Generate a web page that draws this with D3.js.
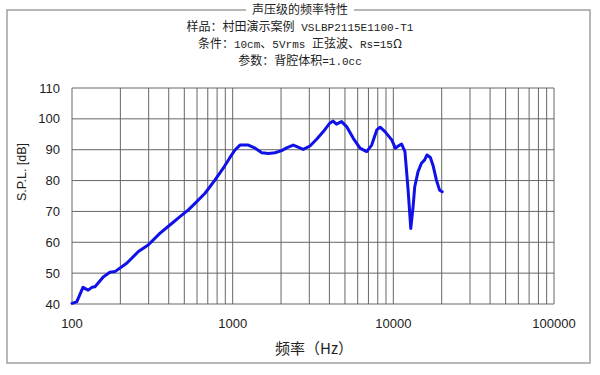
<!DOCTYPE html>
<meta charset="utf-8">
<style>
body { margin: 0; background: #fff; }
text { font-family: "Liberation Sans", Arial, sans-serif; }
</style>
<body>
<script src="https://cdn.jsdelivr.net/npm/d3@7/dist/d3.min.js"></script>
<script>
// frequency response
var freq = [100, 107, 117, 126, 133, 139, 157, 172, 185, 219, 259, 298, 352, 407, 470, 530, 583, 673, 777, 874, 962,
            1034, 1111, 1252, 1380, 1519, 1670, 1834, 2016, 2166, 2380, 2555, 2748, 3028, 3330, 3656, 4022, 4216, 4426,
            4760, 5118, 5633, 6200, 6823, 7332, 7889, 8280, 8900, 9800, 10280, 10960, 11260, 11810, 12360, 12840,
            13270, 13590, 14250, 14960, 15660, 16200, 17000, 17650, 18530, 19400, 20150];
var spl = [40.2, 40.7, 45.4, 44.5, 45.4, 45.6, 48.8, 50.3, 50.5, 53.2, 57, 59.1, 62.9, 65.6, 68.3, 70.5, 72.6, 75.9, 80.2, 84, 87.5,
           89.9, 91.5, 91.5, 90.5, 89, 88.8, 89, 89.7, 90.6, 91.5, 90.8, 90.1, 91.2, 93.4, 95.8, 98.6, 99.3, 98.3,
           99.1, 97.5, 93.7, 90.5, 89.4, 91.5, 96.4, 97.3, 95.8, 93.1, 90.5, 91.5, 91.8, 89.4, 76.9, 64.5,
           71.5, 78, 82.9, 85.6, 86.7, 88.3, 87.5, 85, 80.2, 76.9, 76.4];

var yTicks = [40, 50, 60, 70, 80, 90, 100, 110];
var xLabels = [100, 1000, 10000, 100000];
var titleLines = ["声压级的频率特性", "样品：村田演示案例 VSLBP2115E1100-T1", "条件：10cm、5Vrms 正弦波、Rs=15Ω", "参数：背腔体积=1.0cc"];

var width = 600, height = 375;
var svg = d3.select("body").append("svg")
    .attr("width", width)
    .attr("height", height);

// outer frame
svg.append("rect")
    .attr("x", 7).attr("y", 10)
    .attr("width", 583).attr("height", 353)
    .attr("fill", "none")
    .attr("stroke", "#a0a0a0")
    .attr("stroke-width", 1.5);

var x = d3.scaleLog().domain([100, 100000]).range([72, 554]);
var y = d3.scaleLinear().domain([40, 110]).range([304, 88]);

// grid lines
var minor = [];
[100, 1000, 10000].forEach(function(d) {
  for (var k = 1; k < 10; k++) minor.push(d * k);
});
minor.push(100000);

svg.append("g").selectAll("line")
  .data(minor)
  .enter().append("line")
    .attr("x1", function(d) { return x(d); })
    .attr("x2", function(d) { return x(d); })
    .attr("y1", y(40)).attr("y2", y(110))
    .attr("stroke", "#666")
    .attr("stroke-width", 1);

svg.append("g").selectAll("line")
  .data(yTicks)
  .enter().append("line")
    .attr("x1", x(100)).attr("x2", x(100000))
    .attr("y1", function(d) { return y(d); })
    .attr("y2", function(d) { return y(d); })
    .attr("stroke", "#666")
    .attr("stroke-width", 1);

// tick labels
svg.append("g").selectAll("text")
  .data(yTicks)
  .enter().append("text")
    .attr("x", 60)
    .attr("y", function(d) { return y(d) + 4.5; })
    .attr("text-anchor", "end")
    .attr("font-size", 13)
    .attr("fill", "#222")
    .text(function(d) { return d; });

svg.append("g").selectAll("text")
  .data(xLabels)
  .enter().append("text")
    .attr("x", function(d) { return x(d); })
    .attr("y", 328)
    .attr("text-anchor", "middle")
    .attr("font-size", 13)
    .attr("fill", "#222")
    .text(function(d) { return d; });

svg.append("text")
    .attr("transform", "translate(26,172) rotate(-90)")
    .attr("text-anchor", "middle")
    .attr("font-size", 12.5)
    .attr("fill", "#222")
    .text("S.P.L. [dB]");

svg.append("text")
    .attr("x", 314).attr("y", 354)
    .attr("text-anchor", "middle")
    .attr("font-size", 15)
    .attr("fill", "#222")
    .style("font-family", "'Noto Sans CJK SC', sans-serif")
    .text("频率（Hz）");

// the curve
var line = d3.line()
    .x(function(d, i) { return x(freq[i]); })
    .y(function(d) { return y(d); });

svg.append("path")
    .datum(spl)
    .attr("d", line)
    .attr("fill", "none")
    .attr("stroke", "#1010e8")
    .attr("stroke-width", 3)
    .attr("stroke-linejoin", "round")
    .attr("stroke-linecap", "round");

// title block, first line sits on the frame
svg.append("rect")
    .attr("x", 246).attr("y", 3)
    .attr("width", 108).attr("height", 15)
    .attr("fill", "#fff");

titleLines.forEach(function(s, i) {
  var t = svg.append("text")
      .attr("x", 300)
      .attr("y", 14 + i * 17)
      .attr("text-anchor", "middle")
      .attr("fill", "#222");
  // split into CJK and ascii runs
  var runs = s.match(/[\x20-\x7e]+|[^\x20-\x7e]+/g);
  runs.forEach(function(r) {
    var ascii = /^[\x20-\x7e]+$/.test(r);
    t.append("tspan")
      .style("font-family", ascii ? "'Liberation Mono', monospace" : "'Noto Sans CJK SC', sans-serif")
      .attr("font-size", ascii ? 11 : 12)
      .text(r);
  });
});
</script>
</body>
